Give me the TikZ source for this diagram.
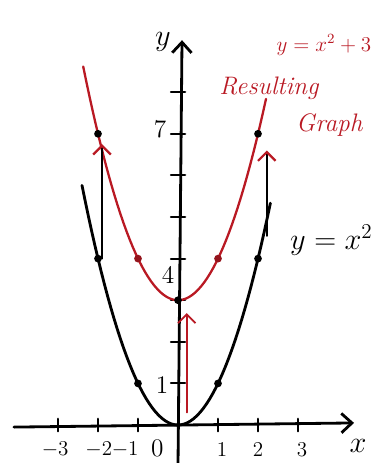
\documentclass[tikz,border=0pt]{standalone}
\usepackage{tikz}
\usetikzlibrary{arrows.meta}
\definecolor{penred}{RGB}{185,25,35}
\tikzstyle{every node}=[font=\LARGE]
\tikzstyle{every path}=[line cap=round,line join=round]
\tikzstyle{axis}=[line width=1.6pt,-{Straight Barb[length=6pt,width=11pt]}]
\tikzstyle{tickmark}=[line width=1.2pt]
\tikzstyle{basecurve}=[line width=1.6pt]
\tikzstyle{shiftcurve}=[line width=1.3pt,penred]
\tikzstyle{shiftarrow}=[line width=1.3pt,-{Straight Barb[length=5pt,width=10pt,color=penred]}]
\tikzstyle{redtext}=[text=penred,font=\Large]

\begin{document}
\begin{tikzpicture}[x=0.8cm,y=0.832cm]
\useasboundingbox (-4.45,-0.913) rectangle (4.9,10.216);
%Axes
	\coordinate (X0) at (-4.1,-0.05);
	\coordinate (X1) at (4.4,0.05);
	\coordinate (Y0) at (0,-0.95);
	\coordinate (Y1) at (0.1,9.25);
	\draw[axis] (X0) -- (X1);
	\draw[axis] (Y0) -- (Y1);
	\node (labX) at (4.5,-0.5) {$x$};
	\node (labY) at (-0.38,9.2) {$y$};
%Ticks and numbers
	\foreach \t in {-3,-2,-1,1,2,3} \draw[tickmark] (\t,-0.15) -- (\t,0.15);
	\foreach \t in {1,...,8} \draw[tickmark] (-0.18,\t) -- (0.18,\t);
	\foreach \t/\p in {-3/-3.07,-2/-1.98,-1/-1.32,1/1.1,2/2,3/3.1} \node[font=\large,inner sep=1pt] (num\t) at (\p,-0.6) {$\t$};
	\node[font=\Large,inner sep=1pt] (num0) at (-0.52,-0.55) {$0$};
	\node[font=\Large] (numSeven) at (-0.45,7.1) {$7$};
	\node[font=\Large] (numFour) at (-0.25,3.6) {$4$};
	\node[font=\Large] (numOne) at (-0.4,0.96) {$1$};
 %Base graph (black)
	\draw[basecurve] plot[domain=-2.4:2.31,samples=60] (\x,{\x*\x});
	\coordinate (B0) at (0,0);
	\coordinate (B1) at (1,1);
	\coordinate (B2) at (-1,1);
	\coordinate (B3) at (2,4);
	\coordinate (B4) at (-2,4);
	\foreach \p in {B1,B2,B3,B4} \fill (\p) circle (2.2pt);
	\node[anchor=west] (eqBase) at (2.65,4.45) {$y=x^2$};
%Resulting graph (red)
	\draw[shiftcurve] plot[domain=-2.37:2.2,samples=60] (\x,{\x*\x+3});
	\coordinate (R0) at (0,3);
	\coordinate (R1) at (1,4);
	\coordinate (R2) at (-1,4);
	\coordinate (R3) at (2,7);
	\coordinate (R4) at (-2,7);
	\foreach \p in {R0,R3,R4} \fill (\p) circle (2.2pt);
	\foreach \p in {R1,R2} \fill[penred!80!black] (\p) circle (2.2pt);
	\node[redtext,anchor=east,font=\large,inner sep=1pt] (eqShift) at (4.88,9.13) {$y=x^2+3$};
	\node[redtext,anchor=west,font=\Large\itshape] (txtRes) at (0.88,8.1) {Resulting};
	\node[redtext,anchor=west,font=\Large\itshape] (txtGraph) at (2.8,7.2) {Graph};
%Shift arrows
	\coordinate (L0) at (-1.9,4);
	\coordinate (L1) at (-1.9,6.75);
	\coordinate (M0) at (0.22,0.3);
	\coordinate (M1) at (0.22,2.69);
	\coordinate (Q0) at (2.22,4.55);
	\coordinate (Q1) at (2.22,6.6);
	\draw[shiftarrow] (L0) -- (L1);
	\draw[shiftarrow,penred,line width=1pt] (M0) -- (M1);
	\draw[shiftarrow] (Q0) -- (Q1);
  \end{tikzpicture}
\end{document}
